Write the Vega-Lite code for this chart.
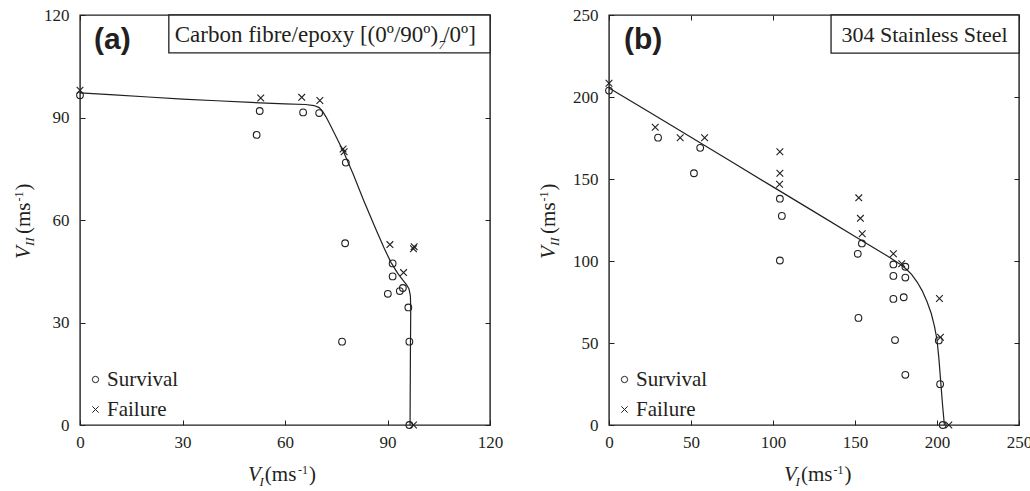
{
  "$schema": "https://vega.github.io/schema/vega-lite/v6.json",
  "background": "white",
  "padding": {"left": 12, "top": 5, "right": 0, "bottom": 0},
  "bounds": "flush",
  "spacing": 119,
  "config": {
    "font": "Liberation Serif",
    "view": {"stroke": "#231f20", "strokeWidth": 1.4},
    "axis": {"domain": false, "grid": false, "labelFont": "Liberation Serif", "labelFontSize": 17, "labelColor": "#231f20", "tickColor": "#231f20", "tickWidth": 1, "tickSize": -5, "title": null, "labelFlush": false, "labelOverlap": false, "zindex": 1},
    "legend": {"padding": 0, "labelFont": "Liberation Serif"},
    "text": {"font": "Liberation Serif", "color": "#231f20"}
  },
  "resolve": {"scale": {"shape": "independent"}, "legend": {"shape": "independent"}},
  "datasets": {
    "curveA": [
      {"i": 0, "vi": 0, "vii": 97.2}, {"i": 1, "vi": 10, "vii": 96.6}, {"i": 2, "vi": 20, "vii": 96.0},
      {"i": 3, "vi": 30, "vii": 95.4}, {"i": 4, "vi": 40, "vii": 94.9}, {"i": 5, "vi": 50, "vii": 94.4},
      {"i": 6, "vi": 60, "vii": 94.0}, {"i": 7, "vi": 66, "vii": 93.8}, {"i": 8, "vi": 68.5, "vii": 93.5},
      {"i": 9, "vi": 70, "vii": 92.9}, {"i": 10, "vi": 71, "vii": 91.8}, {"i": 11, "vi": 72, "vii": 90.2},
      {"i": 12, "vi": 73.5, "vii": 87.3}, {"i": 13, "vi": 77, "vii": 80.3}, {"i": 14, "vi": 80, "vii": 73.3},
      {"i": 15, "vi": 83, "vii": 65.8}, {"i": 16, "vi": 86.5, "vii": 57.5}, {"i": 17, "vi": 89, "vii": 51.8},
      {"i": 18, "vi": 91, "vii": 47.6}, {"i": 19, "vi": 93, "vii": 44.4}, {"i": 20, "vi": 94.5, "vii": 42.4},
      {"i": 21, "vi": 95.6, "vii": 41.0}, {"i": 22, "vi": 96.3, "vii": 39.8}, {"i": 23, "vi": 96.7, "vii": 37.8},
      {"i": 24, "vi": 96.8, "vii": 34}, {"i": 25, "vi": 96.7, "vii": 20}, {"i": 26, "vi": 96.6, "vii": 0}
    ],
    "ptsA": [
      {"vi": 0, "vii": 96.5, "outcome": "Survival"}, {"vi": 52.6, "vii": 91.9, "outcome": "Survival"},
      {"vi": 51.7, "vii": 84.9, "outcome": "Survival"}, {"vi": 65.3, "vii": 91.5, "outcome": "Survival"},
      {"vi": 70.0, "vii": 91.3, "outcome": "Survival"}, {"vi": 77.8, "vii": 76.8, "outcome": "Survival"},
      {"vi": 77.6, "vii": 53.2, "outcome": "Survival"}, {"vi": 91.5, "vii": 47.3, "outcome": "Survival"},
      {"vi": 91.5, "vii": 43.5, "outcome": "Survival"}, {"vi": 94.5, "vii": 40.1, "outcome": "Survival"},
      {"vi": 93.6, "vii": 39.2, "outcome": "Survival"}, {"vi": 90.1, "vii": 38.4, "outcome": "Survival"},
      {"vi": 96.1, "vii": 34.4, "outcome": "Survival"}, {"vi": 76.7, "vii": 24.4, "outcome": "Survival"},
      {"vi": 96.4, "vii": 24.4, "outcome": "Survival"}, {"vi": 96.4, "vii": 0, "outcome": "Survival"},
      {"vi": 0, "vii": 98, "outcome": "Failure"}, {"vi": 52.9, "vii": 95.7, "outcome": "Failure"},
      {"vi": 64.9, "vii": 95.9, "outcome": "Failure"}, {"vi": 70.2, "vii": 95.0, "outcome": "Failure"},
      {"vi": 77.0, "vii": 80.8, "outcome": "Failure"}, {"vi": 77.3, "vii": 80.0, "outcome": "Failure"},
      {"vi": 90.7, "vii": 52.8, "outcome": "Failure"}, {"vi": 97.6, "vii": 51.6, "outcome": "Failure"},
      {"vi": 97.8, "vii": 52.2, "outcome": "Failure"}, {"vi": 94.7, "vii": 44.6, "outcome": "Failure"},
      {"vi": 97.6, "vii": 0, "outcome": "Failure"}
    ],
    "curveB": [
      {"i": 0, "vi": 0, "vii": 205.5}, {"i": 1, "vi": 25, "vii": 190.5}, {"i": 2, "vi": 50, "vii": 175.4},
      {"i": 3, "vi": 75, "vii": 160.3}, {"i": 4, "vi": 100, "vii": 145.2}, {"i": 5, "vi": 125, "vii": 130.1},
      {"i": 6, "vi": 150, "vii": 115.0}, {"i": 7, "vi": 170, "vii": 102.9}, {"i": 8, "vi": 177, "vii": 98.4},
      {"i": 9, "vi": 181, "vii": 95.3}, {"i": 10, "vi": 184.5, "vii": 91.8}, {"i": 11, "vi": 188, "vii": 87.0},
      {"i": 12, "vi": 191, "vii": 81.8}, {"i": 13, "vi": 194, "vii": 75.0}, {"i": 14, "vi": 196.5, "vii": 68.0},
      {"i": 15, "vi": 198.5, "vii": 60.0}, {"i": 16, "vi": 200, "vii": 52.0}, {"i": 17, "vi": 201.2, "vii": 40},
      {"i": 18, "vi": 202.3, "vii": 26}, {"i": 19, "vi": 203.4, "vii": 12}, {"i": 20, "vi": 204.5, "vii": 0}
    ],
    "ptsB": [
      {"vi": 0, "vii": 203.9, "outcome": "Survival"}, {"vi": 29.9, "vii": 175.2, "outcome": "Survival"},
      {"vi": 55.6, "vii": 169.0, "outcome": "Survival"}, {"vi": 51.8, "vii": 153.5, "outcome": "Survival"},
      {"vi": 104.2, "vii": 138.0, "outcome": "Survival"}, {"vi": 105.4, "vii": 127.5, "outcome": "Survival"},
      {"vi": 104.2, "vii": 100.3, "outcome": "Survival"}, {"vi": 154.2, "vii": 110.7, "outcome": "Survival"},
      {"vi": 151.7, "vii": 104.4, "outcome": "Survival"}, {"vi": 152.1, "vii": 65.3, "outcome": "Survival"},
      {"vi": 173.4, "vii": 97.9, "outcome": "Survival"}, {"vi": 180.7, "vii": 96.5, "outcome": "Survival"},
      {"vi": 173.4, "vii": 90.9, "outcome": "Survival"}, {"vi": 180.7, "vii": 89.9, "outcome": "Survival"},
      {"vi": 173.4, "vii": 76.9, "outcome": "Survival"}, {"vi": 179.7, "vii": 77.9, "outcome": "Survival"},
      {"vi": 174.4, "vii": 51.8, "outcome": "Survival"}, {"vi": 180.7, "vii": 30.6, "outcome": "Survival"},
      {"vi": 201.1, "vii": 51.6, "outcome": "Survival"}, {"vi": 201.9, "vii": 24.9, "outcome": "Survival"},
      {"vi": 203.5, "vii": 0, "outcome": "Survival"},
      {"vi": 0, "vii": 208.4, "outcome": "Failure"}, {"vi": 28.2, "vii": 181.5, "outcome": "Failure"},
      {"vi": 43.4, "vii": 175.2, "outcome": "Failure"}, {"vi": 58.3, "vii": 175.2, "outcome": "Failure"},
      {"vi": 104.2, "vii": 166.6, "outcome": "Failure"}, {"vi": 104.2, "vii": 153.5, "outcome": "Failure"},
      {"vi": 104.0, "vii": 146.8, "outcome": "Failure"}, {"vi": 152.3, "vii": 138.5, "outcome": "Failure"},
      {"vi": 153.3, "vii": 126.0, "outcome": "Failure"}, {"vi": 154.4, "vii": 116.6, "outcome": "Failure"},
      {"vi": 173.4, "vii": 104.4, "outcome": "Failure"}, {"vi": 178.5, "vii": 98.3, "outcome": "Failure"},
      {"vi": 201.5, "vii": 77.1, "outcome": "Failure"}, {"vi": 202.1, "vii": 53.5, "outcome": "Failure"},
      {"vi": 207.2, "vii": 0, "outcome": "Failure"}
    ],
    "one": [{}]
  },
  "hconcat": [
    {
      "width": 410, "height": 410,
      "resolve": {"axis": {"x": "independent", "y": "independent"}},
      "layer": [
        {
          "data": {"name": "curveA"},
          "mark": {"type": "line", "color": "#231f20", "strokeWidth": 1.2},
          "encoding": {
            "x": {"field": "vi", "type": "quantitative", "scale": {"domain": [0, 120], "nice": false}, "axis": {"orient": "bottom", "values": [0, 30, 60, 90, 120], "labelPadding": 14, "labelFont": "Liberation Serif"}},
            "y": {"field": "vii", "type": "quantitative", "scale": {"domain": [0, 120], "nice": false}, "axis": {"orient": "left", "values": [0, 30, 60, 90, 120], "labelPadding": 16, "labelFont": "Liberation Serif"}},
            "order": {"field": "i", "type": "quantitative"}
          }
        },
        {
          "data": {"name": "ptsA"},
          "mark": {"type": "point", "filled": false, "color": "#231f20", "strokeWidth": 1.1, "size": 45, "opacity": 1},
          "encoding": {
            "x": {"field": "vi", "type": "quantitative", "scale": {"domain": [0, 120], "nice": false}, "axis": null},
            "y": {"field": "vii", "type": "quantitative", "scale": {"domain": [0, 120], "nice": false}, "axis": null},
            "shape": {"field": "outcome", "type": "nominal", "scale": {"domain": ["Survival", "Failure"], "range": ["circle", "M-1,-1L1,1M-1,1L1,-1"]},
              "legend": {"orient": "bottom-left", "offset": 5, "padding": 0, "title": null, "labelFont": "Liberation Serif", "labelFontSize": 21, "labelColor": "#231f20", "symbolSize": 40, "symbolStrokeColor": "#231f20", "symbolStrokeWidth": 1, "symbolFillColor": "transparent", "rowPadding": 8, "labelOffset": 1}}
          }
        },
        {
          "data": {"name": "one"},
          "mark": {"type": "rect", "fill": "white", "stroke": "#231f20", "strokeWidth": 1.3},
          "encoding": {
            "x": {"datum": 26.0, "type": "quantitative", "scale": {"domain": [0, 120], "nice": false}, "axis": {"orient": "top", "values": [0, 30, 60, 90, 120], "labels": false}},
            "x2": {"datum": 120},
            "y": {"datum": 108.9, "type": "quantitative", "scale": {"domain": [0, 120], "nice": false}, "axis": {"orient": "right", "values": [0, 30, 60, 90, 120], "labels": false}},
            "y2": {"datum": 120}
          }
        },
        {
          "data": {"name": "one"},
          "mark": {"type": "text", "text": "(a)", "font": "Liberation Sans", "fontWeight": "bold", "fontSize": 30, "align": "left", "baseline": "alphabetic"},
          "encoding": {
            "x": {"datum": 4.1, "type": "quantitative", "scale": {"domain": [0, 120], "nice": false}, "axis": null},
            "y": {"datum": 110.0, "type": "quantitative", "scale": {"domain": [0, 120], "nice": false}, "axis": null}
          }
        },
        {
          "data": {"name": "one"},
          "mark": {"type": "text", "text": "Carbon fibre/epoxy [(0º/90º)", "font": "Liberation Serif", "fontSize": 23, "align": "right", "baseline": "alphabetic"},
          "encoding": {
            "x": {"datum": 104.8, "type": "quantitative", "scale": {"domain": [0, 120], "nice": false}, "axis": null},
            "y": {"datum": 112.1, "type": "quantitative", "scale": {"domain": [0, 120], "nice": false}, "axis": null}
          }
        },
        {
          "data": {"name": "one"},
          "mark": {"type": "text", "text": "7", "font": "Liberation Serif", "fontSize": 13, "fontStyle": "italic", "align": "left", "baseline": "alphabetic"},
          "encoding": {
            "x": {"datum": 104.9, "type": "quantitative", "scale": {"domain": [0, 120], "nice": false}, "axis": null},
            "y": {"datum": 110.0, "type": "quantitative", "scale": {"domain": [0, 120], "nice": false}, "axis": null}
          }
        },
        {
          "data": {"name": "one"},
          "mark": {"type": "text", "text": "/0º]", "font": "Liberation Serif", "fontSize": 23, "align": "left", "baseline": "alphabetic"},
          "encoding": {
            "x": {"datum": 106.3, "type": "quantitative", "scale": {"domain": [0, 120], "nice": false}, "axis": null},
            "y": {"datum": 112.1, "type": "quantitative", "scale": {"domain": [0, 120], "nice": false}, "axis": null}
          }
        },
        {
          "data": {"name": "one"},
          "mark": {"type": "text", "text": "V", "font": "Liberation Serif", "fontSize": 21, "fontStyle": "italic", "align": "left", "baseline": "alphabetic"},
          "encoding": {
            "x": {"datum": 49.2, "type": "quantitative", "scale": {"domain": [0, 120], "nice": false}, "axis": null},
            "y": {"datum": -16.4, "type": "quantitative", "scale": {"domain": [0, 120], "nice": false}, "axis": null}
          }
        },
        {
          "data": {"name": "one"},
          "mark": {"type": "text", "text": "I", "font": "Liberation Serif", "fontSize": 13, "fontStyle": "italic", "align": "left", "baseline": "alphabetic"},
          "encoding": {
            "x": {"datum": 52.5, "type": "quantitative", "scale": {"domain": [0, 120], "nice": false}, "axis": null},
            "y": {"datum": -17.9, "type": "quantitative", "scale": {"domain": [0, 120], "nice": false}, "axis": null}
          }
        },
        {
          "data": {"name": "one"},
          "mark": {"type": "text", "text": "(ms", "font": "Liberation Serif", "fontSize": 21, "align": "left", "baseline": "alphabetic"},
          "encoding": {
            "x": {"datum": 54.1, "type": "quantitative", "scale": {"domain": [0, 120], "nice": false}, "axis": null},
            "y": {"datum": -16.4, "type": "quantitative", "scale": {"domain": [0, 120], "nice": false}, "axis": null}
          }
        },
        {
          "data": {"name": "one"},
          "mark": {"type": "text", "text": "-1", "font": "Liberation Serif", "fontSize": 12, "align": "left", "baseline": "alphabetic"},
          "encoding": {
            "x": {"datum": 63.8, "type": "quantitative", "scale": {"domain": [0, 120], "nice": false}, "axis": null},
            "y": {"datum": -14.3, "type": "quantitative", "scale": {"domain": [0, 120], "nice": false}, "axis": null}
          }
        },
        {
          "data": {"name": "one"},
          "mark": {"type": "text", "text": ")", "font": "Liberation Serif", "fontSize": 21, "align": "left", "baseline": "alphabetic"},
          "encoding": {
            "x": {"datum": 67.0, "type": "quantitative", "scale": {"domain": [0, 120], "nice": false}, "axis": null},
            "y": {"datum": -16.4, "type": "quantitative", "scale": {"domain": [0, 120], "nice": false}, "axis": null}
          }
        },
        {
          "data": {"name": "one"},
          "mark": {"type": "text", "text": "V", "font": "Liberation Serif", "fontSize": 21, "fontStyle": "italic", "align": "left", "baseline": "alphabetic", "angle": 270},
          "encoding": {
            "x": {"datum": -14.6, "type": "quantitative", "scale": {"domain": [0, 120], "nice": false}, "axis": null},
            "y": {"datum": 48.6, "type": "quantitative", "scale": {"domain": [0, 120], "nice": false}, "axis": null}
          }
        },
        {
          "data": {"name": "one"},
          "mark": {"type": "text", "text": "II", "font": "Liberation Serif", "fontSize": 13, "fontStyle": "italic", "align": "left", "baseline": "alphabetic", "angle": 270},
          "encoding": {
            "x": {"datum": -13.5, "type": "quantitative", "scale": {"domain": [0, 120], "nice": false}, "axis": null},
            "y": {"datum": 52.4, "type": "quantitative", "scale": {"domain": [0, 120], "nice": false}, "axis": null}
          }
        },
        {
          "data": {"name": "one"},
          "mark": {"type": "text", "text": "(ms", "font": "Liberation Serif", "fontSize": 21, "align": "left", "baseline": "alphabetic", "angle": 270},
          "encoding": {
            "x": {"datum": -14.6, "type": "quantitative", "scale": {"domain": [0, 120], "nice": false}, "axis": null},
            "y": {"datum": 55.9, "type": "quantitative", "scale": {"domain": [0, 120], "nice": false}, "axis": null}
          }
        },
        {
          "data": {"name": "one"},
          "mark": {"type": "text", "text": "-1", "font": "Liberation Serif", "fontSize": 12, "align": "left", "baseline": "alphabetic", "angle": 270},
          "encoding": {
            "x": {"datum": -16.7, "type": "quantitative", "scale": {"domain": [0, 120], "nice": false}, "axis": null},
            "y": {"datum": 65.4, "type": "quantitative", "scale": {"domain": [0, 120], "nice": false}, "axis": null}
          }
        },
        {
          "data": {"name": "one"},
          "mark": {"type": "text", "text": ")", "font": "Liberation Serif", "fontSize": 21, "align": "left", "baseline": "alphabetic", "angle": 270},
          "encoding": {
            "x": {"datum": -14.6, "type": "quantitative", "scale": {"domain": [0, 120], "nice": false}, "axis": null},
            "y": {"datum": 68.6, "type": "quantitative", "scale": {"domain": [0, 120], "nice": false}, "axis": null}
          }
        }
      ]
    },
    {
      "width": 410, "height": 410,
      "resolve": {"axis": {"x": "independent", "y": "independent"}},
      "layer": [
        {
          "data": {"name": "curveB"},
          "mark": {"type": "line", "color": "#231f20", "strokeWidth": 1.2},
          "encoding": {
            "x": {"field": "vi", "type": "quantitative", "scale": {"domain": [0, 250], "nice": false}, "axis": {"orient": "bottom", "values": [0, 50, 100, 150, 200, 250], "labelPadding": 14, "labelFont": "Liberation Serif"}},
            "y": {"field": "vii", "type": "quantitative", "scale": {"domain": [0, 250], "nice": false}, "axis": {"orient": "left", "values": [0, 50, 100, 150, 200, 250], "labelPadding": 16, "labelFont": "Liberation Serif"}},
            "order": {"field": "i", "type": "quantitative"}
          }
        },
        {
          "data": {"name": "ptsB"},
          "mark": {"type": "point", "filled": false, "color": "#231f20", "strokeWidth": 1.1, "size": 45, "opacity": 1},
          "encoding": {
            "x": {"field": "vi", "type": "quantitative", "scale": {"domain": [0, 250], "nice": false}, "axis": null},
            "y": {"field": "vii", "type": "quantitative", "scale": {"domain": [0, 250], "nice": false}, "axis": null},
            "shape": {"field": "outcome", "type": "nominal", "scale": {"domain": ["Survival", "Failure"], "range": ["circle", "M-1,-1L1,1M-1,1L1,-1"]},
              "legend": {"orient": "bottom-left", "offset": 5, "padding": 0, "title": null, "labelFont": "Liberation Serif", "labelFontSize": 21, "labelColor": "#231f20", "symbolSize": 40, "symbolStrokeColor": "#231f20", "symbolStrokeWidth": 1, "symbolFillColor": "transparent", "rowPadding": 8, "labelOffset": 1}}
          }
        },
        {
          "data": {"name": "one"},
          "mark": {"type": "rect", "fill": "white", "stroke": "#231f20", "strokeWidth": 1.3},
          "encoding": {
            "x": {"datum": 135.4, "type": "quantitative", "scale": {"domain": [0, 250], "nice": false}, "axis": {"orient": "top", "values": [0, 50, 100, 150, 200, 250], "labels": false}},
            "x2": {"datum": 250},
            "y": {"datum": 226.8, "type": "quantitative", "scale": {"domain": [0, 250], "nice": false}, "axis": {"orient": "right", "values": [0, 50, 100, 150, 200, 250], "labels": false}},
            "y2": {"datum": 250}
          }
        },
        {
          "data": {"name": "one"},
          "mark": {"type": "text", "text": "(b)", "font": "Liberation Sans", "fontWeight": "bold", "fontSize": 30, "align": "left", "baseline": "alphabetic"},
          "encoding": {
            "x": {"datum": 9.1, "type": "quantitative", "scale": {"domain": [0, 250], "nice": false}, "axis": null},
            "y": {"datum": 229.3, "type": "quantitative", "scale": {"domain": [0, 250], "nice": false}, "axis": null}
          }
        },
        {
          "data": {"name": "one"},
          "mark": {"type": "text", "text": "304 Stainless Steel", "font": "Liberation Serif", "fontSize": 22, "align": "right", "baseline": "alphabetic"},
          "encoding": {
            "x": {"datum": 243.1, "type": "quantitative", "scale": {"domain": [0, 250], "nice": false}, "axis": null},
            "y": {"datum": 233.5, "type": "quantitative", "scale": {"domain": [0, 250], "nice": false}, "axis": null}
          }
        },
        {
          "data": {"name": "one"},
          "mark": {"type": "text", "text": "V", "font": "Liberation Serif", "fontSize": 21, "fontStyle": "italic", "align": "left", "baseline": "alphabetic"},
          "encoding": {
            "x": {"datum": 106.7, "type": "quantitative", "scale": {"domain": [0, 250], "nice": false}, "axis": null},
            "y": {"datum": -34.1, "type": "quantitative", "scale": {"domain": [0, 250], "nice": false}, "axis": null}
          }
        },
        {
          "data": {"name": "one"},
          "mark": {"type": "text", "text": "I", "font": "Liberation Serif", "fontSize": 13, "fontStyle": "italic", "align": "left", "baseline": "alphabetic"},
          "encoding": {
            "x": {"datum": 113.7, "type": "quantitative", "scale": {"domain": [0, 250], "nice": false}, "axis": null},
            "y": {"datum": -37.2, "type": "quantitative", "scale": {"domain": [0, 250], "nice": false}, "axis": null}
          }
        },
        {
          "data": {"name": "one"},
          "mark": {"type": "text", "text": "(ms", "font": "Liberation Serif", "fontSize": 21, "align": "left", "baseline": "alphabetic"},
          "encoding": {
            "x": {"datum": 117.1, "type": "quantitative", "scale": {"domain": [0, 250], "nice": false}, "axis": null},
            "y": {"datum": -34.1, "type": "quantitative", "scale": {"domain": [0, 250], "nice": false}, "axis": null}
          }
        },
        {
          "data": {"name": "one"},
          "mark": {"type": "text", "text": "-1", "font": "Liberation Serif", "fontSize": 12, "align": "left", "baseline": "alphabetic"},
          "encoding": {
            "x": {"datum": 136.9, "type": "quantitative", "scale": {"domain": [0, 250], "nice": false}, "axis": null},
            "y": {"datum": -29.9, "type": "quantitative", "scale": {"domain": [0, 250], "nice": false}, "axis": null}
          }
        },
        {
          "data": {"name": "one"},
          "mark": {"type": "text", "text": ")", "font": "Liberation Serif", "fontSize": 21, "align": "left", "baseline": "alphabetic"},
          "encoding": {
            "x": {"datum": 143.6, "type": "quantitative", "scale": {"domain": [0, 250], "nice": false}, "axis": null},
            "y": {"datum": -34.1, "type": "quantitative", "scale": {"domain": [0, 250], "nice": false}, "axis": null}
          }
        },
        {
          "data": {"name": "one"},
          "mark": {"type": "text", "text": "V", "font": "Liberation Serif", "fontSize": 21, "fontStyle": "italic", "align": "left", "baseline": "alphabetic", "angle": 270},
          "encoding": {
            "x": {"datum": -32.9, "type": "quantitative", "scale": {"domain": [0, 250], "nice": false}, "axis": null},
            "y": {"datum": 101.2, "type": "quantitative", "scale": {"domain": [0, 250], "nice": false}, "axis": null}
          }
        },
        {
          "data": {"name": "one"},
          "mark": {"type": "text", "text": "II", "font": "Liberation Serif", "fontSize": 13, "fontStyle": "italic", "align": "left", "baseline": "alphabetic", "angle": 270},
          "encoding": {
            "x": {"datum": -30.5, "type": "quantitative", "scale": {"domain": [0, 250], "nice": false}, "axis": null},
            "y": {"datum": 109.1, "type": "quantitative", "scale": {"domain": [0, 250], "nice": false}, "axis": null}
          }
        },
        {
          "data": {"name": "one"},
          "mark": {"type": "text", "text": "(ms", "font": "Liberation Serif", "fontSize": 21, "align": "left", "baseline": "alphabetic", "angle": 270},
          "encoding": {
            "x": {"datum": -32.9, "type": "quantitative", "scale": {"domain": [0, 250], "nice": false}, "axis": null},
            "y": {"datum": 116.5, "type": "quantitative", "scale": {"domain": [0, 250], "nice": false}, "axis": null}
          }
        },
        {
          "data": {"name": "one"},
          "mark": {"type": "text", "text": "-1", "font": "Liberation Serif", "fontSize": 12, "align": "left", "baseline": "alphabetic", "angle": 270},
          "encoding": {
            "x": {"datum": -37.2, "type": "quantitative", "scale": {"domain": [0, 250], "nice": false}, "axis": null},
            "y": {"datum": 136.3, "type": "quantitative", "scale": {"domain": [0, 250], "nice": false}, "axis": null}
          }
        },
        {
          "data": {"name": "one"},
          "mark": {"type": "text", "text": ")", "font": "Liberation Serif", "fontSize": 21, "align": "left", "baseline": "alphabetic", "angle": 270},
          "encoding": {
            "x": {"datum": -32.9, "type": "quantitative", "scale": {"domain": [0, 250], "nice": false}, "axis": null},
            "y": {"datum": 143.0, "type": "quantitative", "scale": {"domain": [0, 250], "nice": false}, "axis": null}
          }
        }
      ]
    }
  ]
}
